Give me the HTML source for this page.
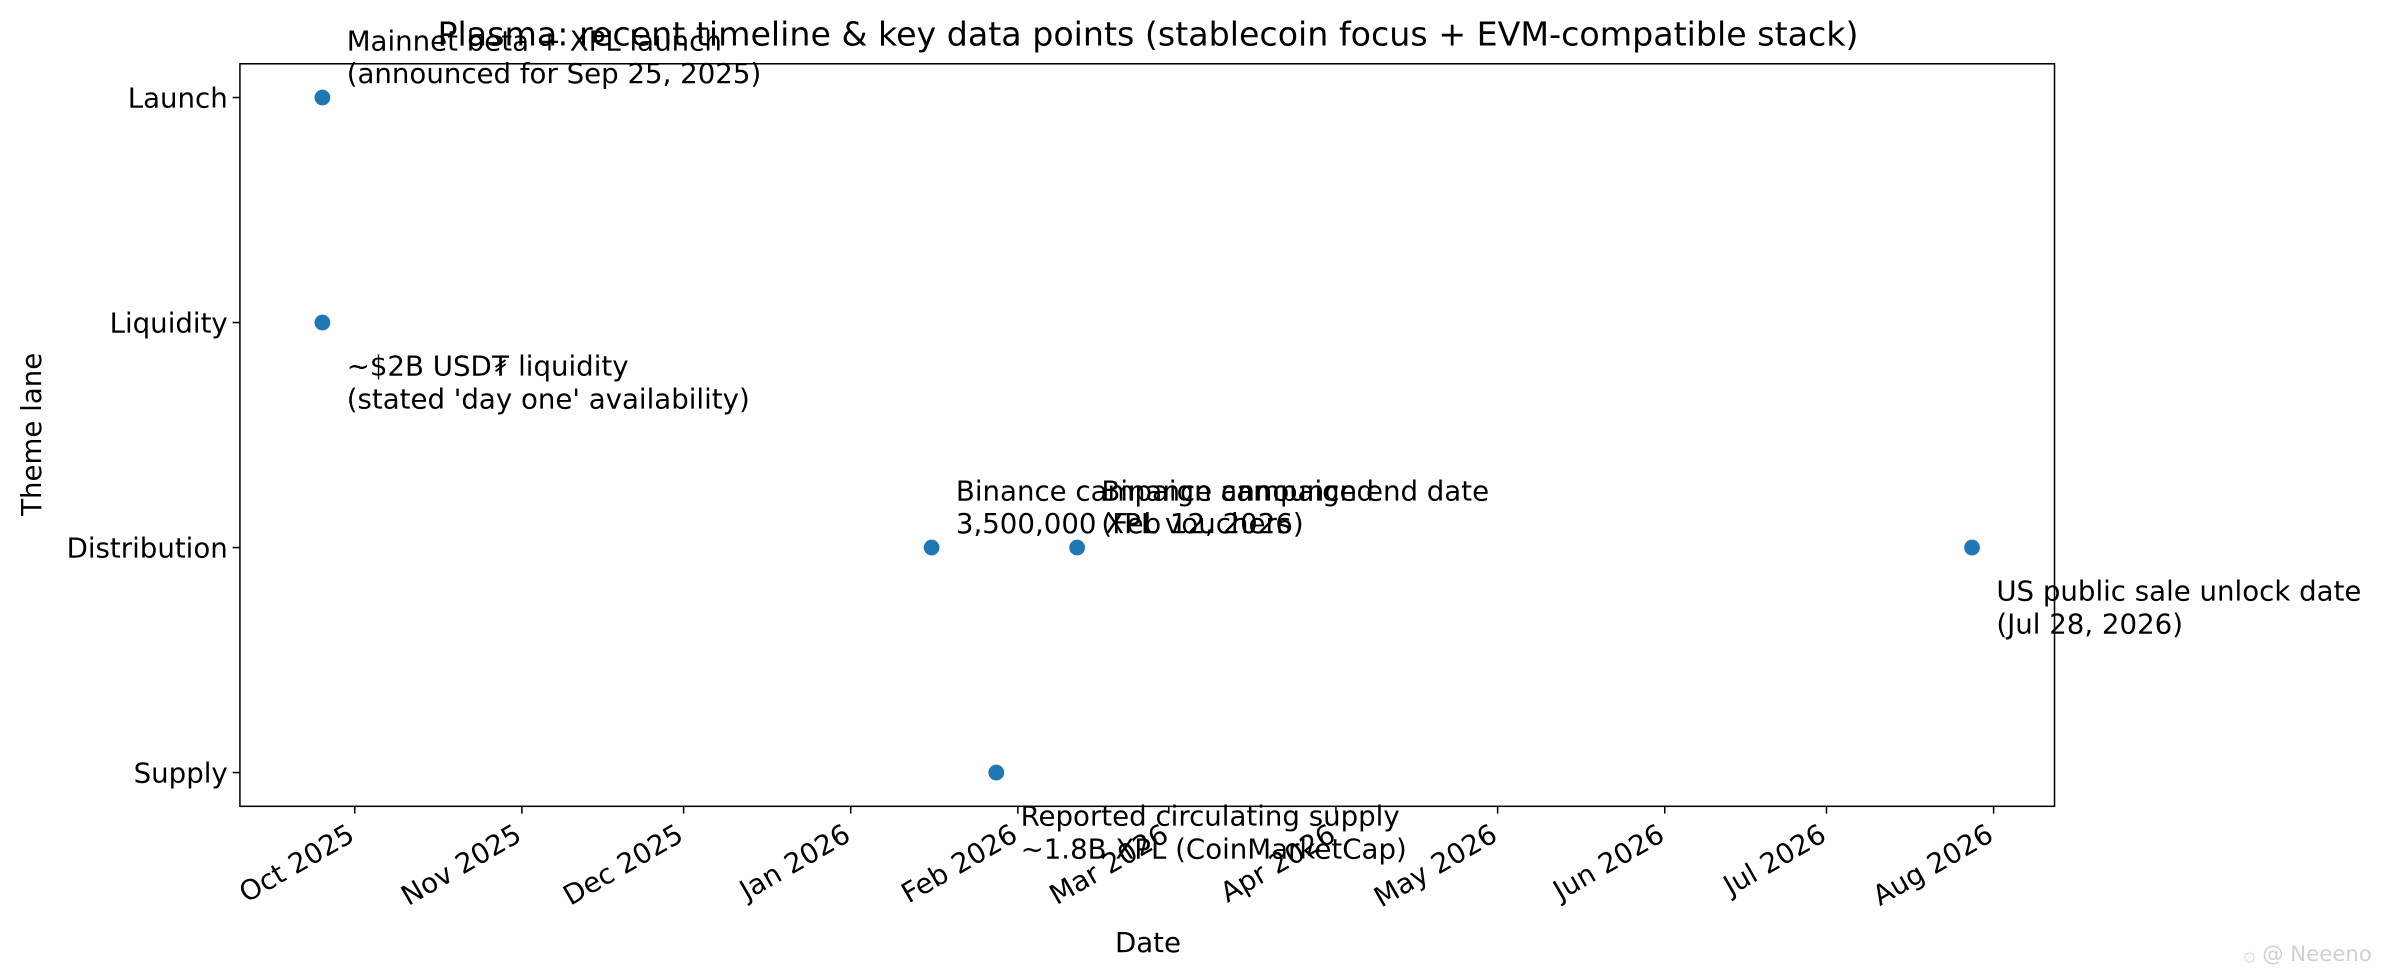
<!DOCTYPE html>
<html><head><meta charset="utf-8"><style>
html,body{margin:0;padding:0;background:#fff;}
svg{display:block;}
text{font-family:"DejaVu Sans","Liberation Sans",sans-serif;fill:#000;}
</style></head><body>
<svg id="chart" width="2381" height="978" viewBox="0 0 1568 644.06" xmlns="http://www.w3.org/2000/svg">
<rect width="1568" height="645" fill="#fff"/>
<text x="756" y="30" font-size="21.9" text-anchor="middle">Plasma: recent timeline &amp; key data points (stablecoin focus + EVM-compatible stack)</text>
<g id="plot"></g>
<rect x="158" y="42" width="1195" height="489" fill="none" stroke="#000" stroke-width="1"/>
<text x="756" y="627" font-size="18.2" text-anchor="middle">Date</text>
<text x="27" y="286" font-size="18.2" text-anchor="middle" transform="rotate(-90 27 286)">Theme lane</text>
<text x="1562" y="633" font-size="14" text-anchor="end" style="fill:#d0d0d0">۞ @ Neeeno</text>
</svg>
<script>
const lanes = ["Supply","Distribution","Liquidity","Launch"];
const tickLabels = ["Oct 2025","Nov 2025","Dec 2025","Jan 2026","Feb 2026","Mar 2026","Apr 2026","May 2026","Jun 2026","Jul 2026","Aug 2026"];
const tickDates = ["2025-10-01","2025-11-01","2025-12-01","2026-01-01","2026-02-01","2026-03-01","2026-04-01","2026-05-01","2026-06-01","2026-07-01","2026-08-01"];
const eventDates = ["2025-09-25","2025-09-25","2026-01-16","2026-02-12","2026-01-28","2026-07-28"];
const eventLanes = ["Launch","Liquidity","Distribution","Distribution","Supply","Distribution"];
const eventLabels = [
 ["Mainnet beta + XPL launch","(announced for Sep 25, 2025)"],
 ["~$2B USD₮ liquidity","(stated 'day one' availability)"],
 ["Binance campaign announced","3,500,000 XPL vouchers"],
 ["Binance campaign end date","(Feb 12, 2026)"],
 ["Reported circulating supply","~1.8B XPL (CoinMarketCap)"],
 ["US public sale unlock date","(Jul 28, 2026)"]
];
const labelAbove = [true,false,true,true,false,false];

const NS="http://www.w3.org/2000/svg";
const L=158,R=1353,T=42,B=531,FS=18.2;
const day=d=>Date.parse(d+"T00:00:00Z")/86400000;
const ds=eventDates.map(day);
const dmin=Math.min(...ds),dmax=Math.max(...ds),pad=(dmax-dmin)*0.05;
const x0=dmin-pad,x1=dmax+pad;
const xs=d=>L+(day(d)-x0)/(x1-x0)*(R-L);
const ys=lane=>{const i=lanes.indexOf(lane);return B-(i+0.15)/(lanes.length-1+0.3)*(B-T);};
const g=document.getElementById('plot');
function mk(tag,attrs,txt){const e=document.createElementNS(NS,tag);for(const k in attrs)e.setAttribute(k,attrs[k]);if(txt!==undefined)e.textContent=txt;g.appendChild(e);return e;}

lanes.forEach(l=>{
 const y=ys(l);
 const t=mk('line',{x1:L-4.8,x2:L,y1:y,y2:y,stroke:'#000','stroke-width':1});
 
 
 const lb=mk('text',{x:L-8,y:y+6.5,'font-size':FS,'text-anchor':'end'},l);
 
 
});
tickDates.forEach((d,i)=>{
 const x=xs(d);
 const t=mk('line',{x1:x,x2:x,y1:B,y2:B+4.8,stroke:'#000','stroke-width':1});
 
 
 const ax=x+1,ty=B+22;
 const lb=mk('text',{x:ax,y:ty,'font-size':FS,'text-anchor':'end',transform:`rotate(-30 ${ax} ${ty})`},tickLabels[i]);
 
 
});
eventDates.forEach((d,i)=>{
 const x=xs(d),y=ys(eventLanes[i]);
 const c=mk('circle',{cx:x,cy:y,r:5.2,fill:'#1f77b4'});
 
 
 const tx=x+16;
 const y1=labelAbove[i]?y-31:y+35;
 const a=mk('text',{x:tx,y:y1,'font-size':FS});
 
 
 eventLabels[i].forEach((s,j)=>{const sp=document.createElementNS(NS,'tspan');sp.setAttribute('x',tx);sp.setAttribute('y',y1+j*21.5);sp.textContent=s;a.appendChild(sp);});
});
</script>
</body></html>
